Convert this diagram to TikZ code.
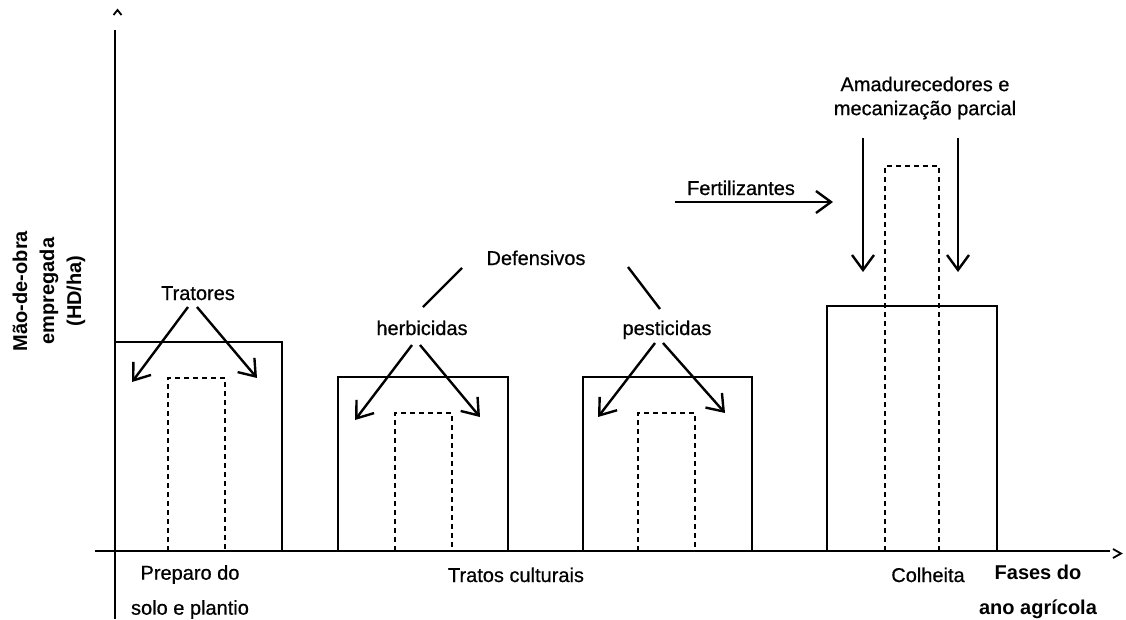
\documentclass[tikz,border=0pt]{standalone}
\usepackage{fontspec}
\setmainfont{Liberation Sans}
\newfontfamily\medio{Liberation Sans}[FakeBold=0.6]
\usetikzlibrary{arrows.meta}
\begin{document}
\begin{tikzpicture}[x=1pt,y=-1pt,font=\medio\fontsize{20}{24}\selectfont,
  every node/.style={inner sep=0pt,anchor=base},
  barra/.style={line width=1.6pt},
  pontos/.style={line width=1.6pt,dash pattern=on 5pt off 4pt},
  seta/.style={line width=2.4pt,-{Straight Barb[length=15pt,width=22pt]}},
  haste/.style={line width=2.4pt},
  rotulo/.style={font=\normalfont\fontsize{20}{27}\selectfont\bfseries,align=center}]
\useasboundingbox (0,0) rectangle (1126,619);
\draw[barra](95,551)--(1110,551);
\draw[barra](115,619)--(115,30);
\draw[line width=1.8pt](113.5,15)--(117.5,10)--(121.5,15) (1113,549)--(1121,553.5)--(1113,558);
\draw[barra](115,342)--(282,342)--(282,551);
\draw[barra](338,551)|-(508,377)--(508,551);
\draw[barra](583,551)|-(752,377)--(752,551);
\draw[barra](827,551)|-(997,306)--(997,551);
\draw[pontos](168,551)|-(225,378)--(225,551);
\draw[pontos](395,551)|-(452,413)--(452,551);
\draw[pontos](638,551)|-(695,413)--(695,551);
\draw[pontos](885,551)|-(939,166)--(939,551);
\node[rotulo,rotate=90,anchor=center](maodeobra) at (49,291) {Mão-de-obra\\empregada\\(HD/ha)};
\node(tratores) at (198,300) {Tratores};
\node(defensivos) at (536,265) {Defensivos};
\node(herbicidas) at (422,335) {herbicidas};
\node(pesticidas) at (667,335) {pesticidas};
\node(fertilizantes) at (741,195) {Fertilizantes};
\node[align=center,anchor=center](amadurecedores) at (925,98) {Amadurecedores e\\mecanização parcial};
\node[align=center,anchor=center,font=\medio\fontsize{20}{35}\selectfont](preparo) at (190,592) {Preparo do\\solo e plantio};
\node(tratos) at (516,582) {Tratos culturais};
\node(colheita) at (928,582) {Colheita};
\node[rotulo,font=\normalfont\fontsize{20}{35}\selectfont\bfseries,anchor=center](fases) at (1038,592) {Fases do\\ano agrícola};
\coordinate(tr-e) at (132,382); \coordinate(tr-d) at (257,378);
\coordinate(he-e) at (355,420); \coordinate(he-d) at (480,417);
\coordinate(pe-e) at (598,417); \coordinate(pe-d) at (725,413);
\coordinate(fe) at (833,202);
\coordinate(am-e) at (863,272); \coordinate(am-d) at (958,272);
\draw[seta]([shift={(-10,7)}]tratores.base)--(tr-e);
\draw[seta]([shift={(-1,7)}]tratores.base)--(tr-d);
\draw[haste]([shift={(-74,3)}]defensivos.base)--([shift={(1,-28)}]herbicidas.base);
\draw[haste]([shift={(92,2)}]defensivos.base)--([shift={(-7,-26)}]pesticidas.base);
\draw[seta]([shift={(-10,10)}]herbicidas.base)--(he-e);
\draw[seta]([shift={(-2,10)}]herbicidas.base)--(he-d);
\draw[seta]([shift={(-12,8)}]pesticidas.base)--(pe-e);
\draw[seta]([shift={(-4,8)}]pesticidas.base)--(pe-d);
\draw[seta]([shift={(-66,7)}]fertilizantes.base)--(fe);
\draw[seta]([shift={(-62,40)}]amadurecedores.center)--(am-e);
\draw[seta]([shift={(33,40)}]amadurecedores.center)--(am-d);
\end{tikzpicture}
\end{document}
